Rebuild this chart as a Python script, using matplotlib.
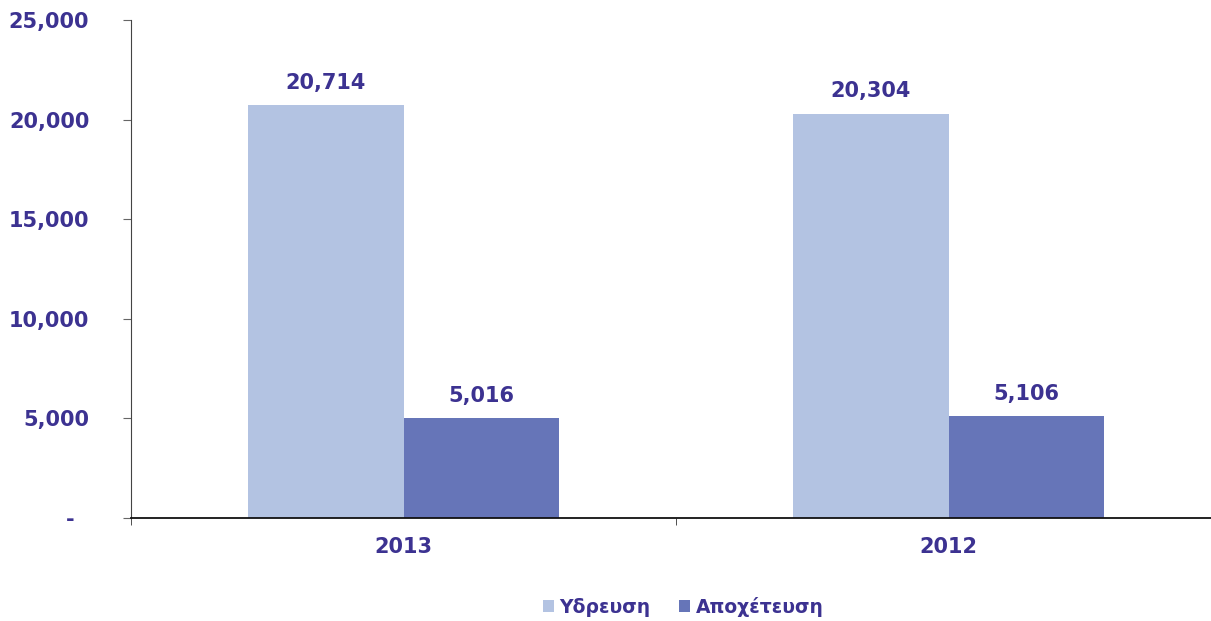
import matplotlib
matplotlib.use('Agg')
import matplotlib.pyplot as plt
import numpy as np
from matplotlib.ticker import FuncFormatter

# Δεδομένα
years = ['2013', '2012']
ydreusi = [20714, 20304]
apoxeteusi = [5016, 5106]
series_names = ['Υδρευση', 'Αποχέτευση']

txt = '#3C3291'
c_light = '#B3C3E2'
c_dark = '#6675B8'

plt.rcParams['font.family'] = ['DejaVu Sans']
plt.rcParams['font.weight'] = 'bold'

fig = plt.figure(figsize=(12.11, 6.21), dpi=100)
ax = fig.add_axes([131 / 1211, 103 / 621, 1090 / 1211, 498 / 621])

x = np.arange(len(years))
w = 0.286
b1 = ax.bar(x - w / 2, ydreusi, w, color=c_light, label=series_names[0])
b2 = ax.bar(x + w / 2, apoxeteusi, w, color=c_dark, label=series_names[1])

for bars in (b1, b2):
    for r in bars:
        h = r.get_height()
        ax.annotate(f'{h:,.0f}', (r.get_x() + r.get_width() / 2, h),
                    xytext=(0, 9), textcoords='offset points',
                    ha='center', va='bottom', fontsize=15,
                    fontweight='bold', color=txt)

ax.set_xlim(-0.5, 1.5)
ax.set_ylim(0, 25000)
ax.set_yticks(range(0, 25001, 5000))
ax.yaxis.set_major_formatter(FuncFormatter(lambda v, p: '-  ' if v == 0 else f'{v:,.0f}'))

ax.set_xticks(x)
ax.set_xticklabels(years)
ax.set_xticks([-0.5, 0.5, 1.5], minor=True)
ax.tick_params(axis='x', which='major', length=0, pad=14, labelsize=15, labelcolor=txt)
ax.tick_params(axis='x', which='minor', length=5, color='#333333', direction='out')
ax.tick_params(axis='y', length=6, color='#666666', direction='out', pad=24,
               labelsize=15, labelcolor=txt)
for lab in ax.get_xticklabels() + ax.get_yticklabels():
    lab.set_fontweight('bold')

for s in ['top', 'right']:
    ax.spines[s].set_visible(False)
ax.spines['left'].set_color('#444444')
ax.spines['bottom'].set_color('#111111')
ax.spines['bottom'].set_linewidth(1.3)

leg = fig.legend(handles=[b1, b2], loc='center', bbox_to_anchor=(683 / 1211, 14 / 621),
                 ncol=2, frameon=False, fontsize=13.5, handlelength=0.6, handleheight=0.6,
                 handletextpad=0.3, columnspacing=1.5)
for t in leg.get_texts():
    t.set_color(txt)
    t.set_fontweight('bold')

fig.savefig('out.png', dpi=100)
